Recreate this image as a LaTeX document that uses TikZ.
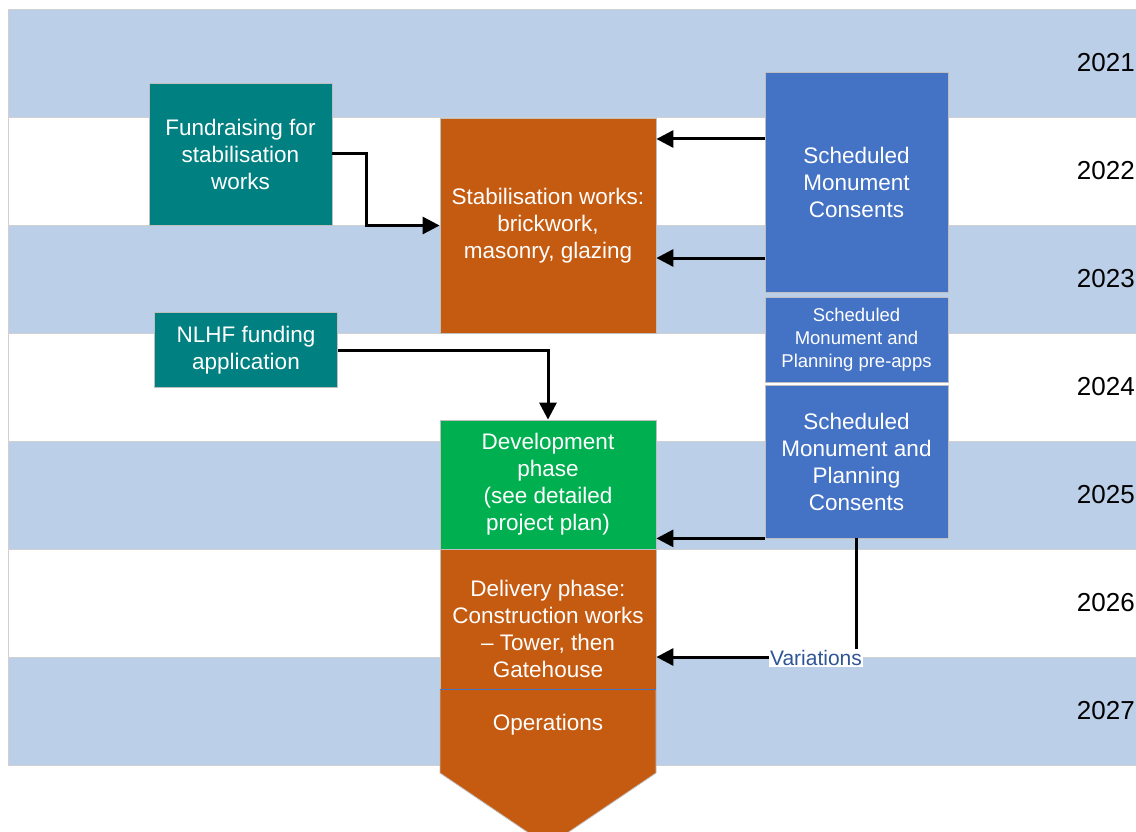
\documentclass[tikz,border=0pt]{standalone}
\usepackage{fontspec}
\setmainfont{Liberation Sans}
\usetikzlibrary{arrows.meta}
\definecolor{bandblue}{HTML}{BBCFE8}
\definecolor{bandline}{HTML}{D0D0D0}
\definecolor{tealc}{HTML}{008080}
\definecolor{orangec}{HTML}{C55A11}
\definecolor{bluec}{HTML}{4472C4}
\definecolor{greenc}{HTML}{00B050}
\definecolor{varblue}{HTML}{2F5597}
\begin{document}
\begin{tikzpicture}[x=1pt,y=-1pt,
  box/.style={draw=black!25, line width=0.8pt, text=white, align=center, inner sep=0pt,
    font=\fontsize{22.5}{27}\selectfont},
  smallbox/.style={box, font=\fontsize{18.5}{23}\selectfont},
  boxtext/.style={text=white, align=center, inner sep=0pt, font=\fontsize{22.5}{27}\selectfont},
  arr/.style={line width=3pt, -{Triangle[length=17pt,width=17pt]}},
  year/.style={anchor=east, inner sep=0pt, font=\fontsize{26}{30}\selectfont},
  varlabel/.style={fill=white, text=varblue, inner sep=1pt, font=\fontsize{21}{24}\selectfont}]
\useasboundingbox (0,0) rectangle (1136,832);
\clip (0,0) rectangle (1136,832);
% bands
\foreach \t/\c in {9/bandblue,117/white,225/bandblue,333/white,441/bandblue,549/white,657/bandblue}
  \draw[fill=\c, draw=bandline, line width=0.8pt] (8,\t) rectangle (1140,\t+108);
% year labels
\foreach \y/\yr in {63/2021,171/2022,279/2023,387/2024,495/2025,603/2026,711/2027}
  \node[year] (y\yr) at (1135,\y) {\yr};
% boxes
\node[box, fill=tealc, minimum width=183pt, minimum height=142pt] (fund) at (240.5,154) {Fundraising for\\stabilisation\\works};
\node[box, fill=orangec, minimum width=216pt, minimum height=215pt] (stab) at (548,225.5) {Stabilisation works:\\brickwork,\\masonry, glazing};
\node[box, fill=bluec, minimum width=183pt, minimum height=220pt] (smc) at (856.5,182) {Scheduled\\Monument\\Consents};
\node[smallbox, fill=bluec, minimum width=183pt, minimum height=85pt] (pre) at (856.5,339.5) {Scheduled\\Monument and\\Planning pre-apps};
\node[box, fill=bluec, minimum width=183pt, minimum height=153pt] (cons) at (856.5,461.5) {Scheduled\\Monument and\\Planning\\Consents};
\node[box, fill=tealc, minimum width=183pt, minimum height=75pt] (nlhf) at (246,350) {NLHF funding\\application};
\node[box, fill=greenc, minimum width=216pt, minimum height=129pt] (dev) at (548,484.5) {Development\\phase\\(see detailed\\project plan)};
% operations pentagon
\filldraw[fill=orangec, draw=black!25, line width=0.8pt] (440,689) -- (656,689) -- (656,773) -- (548,846) -- (440,773) -- cycle;
\node[box, fill=orangec, minimum width=216pt, minimum height=140pt] (deliv) at (548,619) {};
\node[boxtext] (delivtext) at (548,629) {Delivery phase:\\Construction works\\– Tower, then\\Gatehouse};
\draw[bluec, line width=1.5pt] (deliv.south west) -- (deliv.south east);
\node[boxtext] (ops) at (548,725) {Operations};
% connectors
\draw[arr] (fund.east) -- ++(34,0) |- (stab.west);
\draw[arr] (smc.west |- 0,139) -- (stab.east |- 0,139);
\draw[arr] (smc.west |- 0,258) -- (stab.east |- 0,258);
\draw[arr] (nlhf.east) -| (dev.north);
\draw[arr] (cons.south west) -- (dev.east |- cons.south west);
\draw[arr] (cons.south) |- (deliv.east |- 0,657);
\node[varlabel] (var) at (816,658) {Variations};
\end{tikzpicture}
\end{document}
